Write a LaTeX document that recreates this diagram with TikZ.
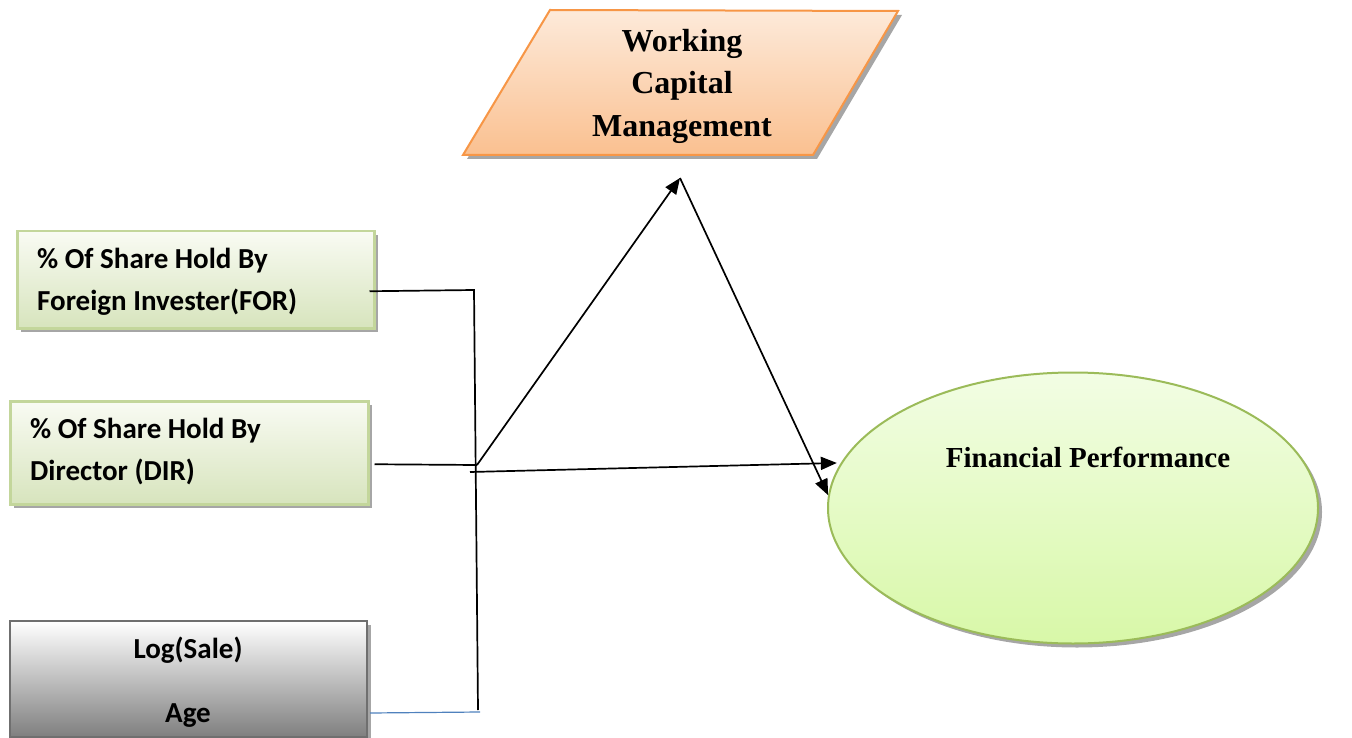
\documentclass[tikz,border=0pt]{standalone}
\usepackage{fontspec}
\setmainfont{Liberation Serif}
\newfontfamily\calfont{Carlito}
\usetikzlibrary{arrows.meta,shadows,shapes.geometric}

\definecolor{grnedge}{HTML}{C3D69B}
\definecolor{grntop}{HTML}{F9FBF3}
\definecolor{grnbot}{HTML}{D7E4BD}
\definecolor{orgedge}{HTML}{F79646}
\definecolor{orgtop}{HTML}{FDEADA}
\definecolor{orgbot}{HTML}{FAC090}
\definecolor{elledge}{HTML}{9BBB59}
\definecolor{elltop}{HTML}{F2FDE4}
\definecolor{ellbot}{HTML}{D8F8A8}
\definecolor{gryedge}{HTML}{6F6F6F}
\definecolor{grybot}{HTML}{7F7F7F}
\definecolor{agelink}{HTML}{4F81BD}

\begin{document}
\begin{tikzpicture}[x=1pt,y=-1pt,
  shadowed/.style={drop shadow={shadow xshift=4pt,shadow yshift=-4pt,fill=black!35,opacity=1}},
  greenbox/.style={draw=grnedge,line width=2.5pt,top color=grntop,bottom color=grnbot,
    shadowed,inner sep=0pt,anchor=north west},
  graybox/.style={draw=gryedge,line width=2pt,top color=white,bottom color=grybot,
    shadowed,inner sep=0pt,anchor=north west},
  calbl/.style={inner sep=0pt,font=\calfont\bfseries\fontsize{29}{34}\selectfont},
  serlbl/.style={inner sep=0pt,font=\bfseries\fontsize{32}{38}\selectfont,anchor=base},
  link/.style={line width=1.7pt,black},
  arr/.style={link,-{Triangle[length=16pt,width=13pt]}}
]
\useasboundingbox (0,0) rectangle (1352,738);

% Input boxes
\node[greenbox,minimum width=357pt,minimum height=97pt] (for) at (16,230) {};
\node[greenbox,minimum width=358pt,minimum height=103pt] (dir) at (9,400) {};
\node[graybox,minimum width=357pt,minimum height=116pt] (ctl) at (9,620) {};

\node[calbl,anchor=base west] (for1) at (37,268) {\% Of Share Hold By};
\node[calbl,anchor=base west] (for2) at (37,310) {Foreign Invester(FOR)};
\node[calbl,anchor=base west] (dir1) at (30,438) {\% Of Share Hold By};
\node[calbl,anchor=base west] (dir2) at (30,480) {Director (DIR)};
\node[calbl,anchor=base] (ctl1) at (188,658) {Log(Sale)};
\node[calbl,anchor=base] (ctl2) at (188,722) {Age};

% Mediator: working capital management
\path[draw=orgedge,line width=2pt,top color=orgtop,bottom color=orgbot,shadowed]
  (463,155) -- (550,10) -- (898,11) -- (813,155) -- cycle;
\node[serlbl] (wcm1) at (682,52) {Working};
\node[serlbl] (wcm2) at (682,94) {Capital};
\node[serlbl] (wcm3) at (682,137) {Management};

% Outcome: financial performance
\node[ellipse,draw=elledge,line width=2pt,top color=elltop,bottom color=ellbot,shadowed,
  minimum width=490pt,minimum height=271pt,inner sep=0pt] (fp) at (1073,508) {};
\node[serlbl,font=\bfseries\fontsize{29}{34}\selectfont] (fptxt) at (1088,467) {Financial Performance};

% Connectors
\coordinate (trunktop) at (474,290);
\coordinate (trunkbot) at (478,710);
\coordinate (jn) at (477,465);
\coordinate (jlow) at (470,472);
\coordinate (wcmtip) at (680,178);
\coordinate (ageend) at (480,712);

\draw[link] ([xshift=-6pt,yshift=-11.5pt]for.east) -- (trunktop) -- (trunkbot);
\draw[link] ([xshift=5pt,yshift=-11.5pt]dir.east) -- (jn);
\draw[line width=1.2pt,agelink] ([xshift=2pt,yshift=-34pt]ctl.east) -- (ageend);
\draw[arr] (jn) -- (wcmtip);
\draw[arr] (wcmtip) -- (fp.177);
\draw[arr,shorten >=4pt] (jlow) -- (fp.169);
\end{tikzpicture}
\end{document}
